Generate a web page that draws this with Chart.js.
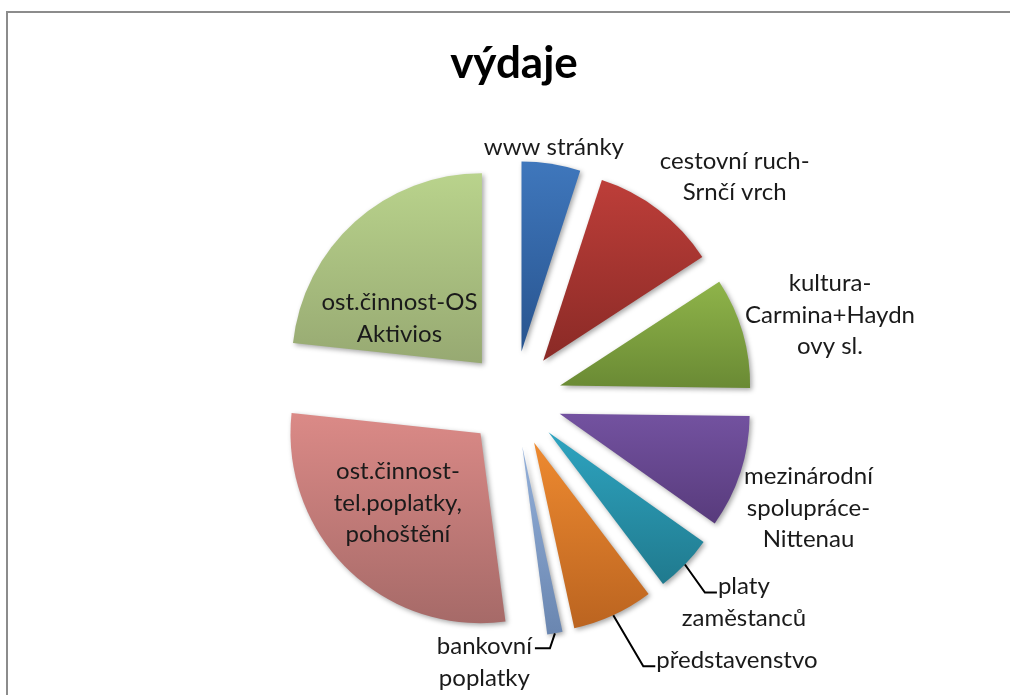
<!DOCTYPE html>
<html>
<head>
<meta charset="utf-8">
<script src="https://cdn.jsdelivr.net/npm/chart.js@4.4.1/dist/chart.umd.min.js"></script>
<style>
  html, body { margin: 0; padding: 0; background: #fff; overflow: hidden; }
  #wrap { position: absolute; left: 0; top: 0; width: 1010px; height: 708px; }
</style>
</head>
<body>
<div id="wrap"><canvas id="c"></canvas></div>
<script>
// data (share of expenses, %)
const categories = [
  ['www stránky'],
  ['cestovní ruch-', 'Srnčí vrch'],
  ['kultura-', 'Carmina+Haydn', 'ovy sl.'],
  ['mezinárodní', 'spolupráce-', 'Nittenau'],
  ['platy', 'zaměstanců'],
  ['představenstvo'],
  ['bankovní', 'poplatky'],
  ['ost.činnost-', 'tel.poplatky,', 'pohoštění'],
  ['ost.činnost-OS', 'Aktivios'],
]
const values = [5.0, 10.8, 9.4, 9.6, 4.9, 6.9, 1.3, 28.8, 23.3]

// ========================= //

const topColors = ['#3f77bc', '#bd3e39', '#8fb44a', '#7352a0', '#2ea4c0', '#ee8a30', '#93b0da', '#db8a87', '#b9d38c']
const bottomColors = ['#28548f', '#8a2a26', '#6a8a34', '#583b7c', '#207a8e', '#bb6420', '#6a86b0', '#a66a68', '#97a972']

const explode = 48
const FONT = 'Lato'
const lineH = 31.5

// label placement: polar (distance, angle nudge in deg) or leader line
const labelLayout = [
  { r: 255, da: 0 },
  { r: 313, da: 7.4 },
  { r: 327, da: 1.3 },
  { r: 314, da: 2.3 },
  { leader: [20, 28], stub: 12, ty: -6 },
  { leader: [30, 51], stub: 12, ty: -6 },
  { leader: [-5, 15], stub: -15, ty: -2 },
  { r: 156, da: 3.8 },
  { r: 140, da: -13 },
]

const explodedPie = {
  id: 'explodedPie',
  beforeDraw(chart) {
    // chart frame (only top and left edges fall inside the window)
    const ctx = chart.ctx
    ctx.save()
    ctx.strokeStyle = '#8c8c8c'
    ctx.lineWidth = 2
    ctx.beginPath()
    ctx.moveTo(7, chart.height)
    ctx.lineTo(7, 12)
    ctx.lineTo(chart.width, 12)
    ctx.stroke()
    ctx.restore()
  },
  beforeDatasetDraw(chart, args) {
    const ctx = chart.ctx
    args.meta.data.forEach((arc, i) => {
      const { x, y, startAngle, endAngle, outerRadius } = arc.getProps(['x', 'y', 'startAngle', 'endAngle', 'outerRadius'])
      const mid = (startAngle + endAngle) / 2
      const cx = x + Math.cos(mid) * explode
      const cy = y + Math.sin(mid) * explode
      let minY = cy, maxY = cy
      for (let k = 0; k <= 40; k++) {
        const a = startAngle + (endAngle - startAngle) * k / 40
        const py = cy + Math.sin(a) * outerRadius
        minY = Math.min(minY, py)
        maxY = Math.max(maxY, py)
      }
      const grad = ctx.createLinearGradient(0, minY, 0, maxY)
      grad.addColorStop(0, topColors[i])
      grad.addColorStop(1, bottomColors[i])
      ctx.save()
      ctx.shadowColor = 'rgba(0,0,0,0.35)'
      ctx.shadowBlur = 5
      ctx.shadowOffsetX = 2
      ctx.shadowOffsetY = 2
      ctx.beginPath()
      ctx.moveTo(cx, cy)
      ctx.arc(cx, cy, outerRadius, startAngle, endAngle)
      ctx.closePath()
      ctx.fillStyle = grad
      ctx.fill()
      ctx.restore()
    })
    return false
  },
  afterDatasetsDraw(chart) {
    const ctx = chart.ctx
    const meta = chart.getDatasetMeta(0)
    ctx.save()
    ctx.font = '24px ' + FONT
    ctx.fillStyle = '#1a1a1a'
    ctx.textAlign = 'center'
    ctx.textBaseline = 'middle'
    meta.data.forEach((arc, i) => {
      const { x, y, startAngle, endAngle, outerRadius } = arc.getProps(['x', 'y', 'startAngle', 'endAngle', 'outerRadius'])
      const mid = (startAngle + endAngle) / 2
      const lines = chart.data.labels[i]
      const lay = labelLayout[i]
      if (lay.leader) {
        const d = outerRadius + explode
        const sx = x + Math.cos(mid) * d
        const sy = y + Math.sin(mid) * d
        const ex = sx + lay.leader[0]
        const ey = sy + lay.leader[1]
        const tx = ex + lay.stub
        ctx.beginPath()
        ctx.moveTo(sx, sy)
        ctx.lineTo(ex, ey)
        ctx.lineTo(tx, ey)
        ctx.strokeStyle = '#000'
        ctx.lineWidth = 2
        ctx.stroke()
        const w = ctx.measureText(lines[0]).width
        const bx = lay.stub > 0 ? tx + 1 + w / 2 : tx - 3 - w / 2
        lines.forEach((ln, k) => ctx.fillText(ln, bx, ey + lay.ty + k * lineH))
      } else {
        const a = mid + lay.da * Math.PI / 180
        const bx = x + Math.cos(a) * lay.r
        const by = y + Math.sin(a) * lay.r
        const top = by - (lines.length - 1) * lineH / 2
        lines.forEach((ln, k) => ctx.fillText(ln, bx, top + k * lineH))
      }
    })
    ctx.restore()
  },
}

new Chart(document.getElementById('c'), {
  type: 'pie',
  data: {
    labels: categories,
    datasets: [
      {
        label: 'výdaje',
        data: values,
        backgroundColor: topColors,
        borderWidth: 0,
      },
    ],
  },
  options: {
    responsive: true,
    maintainAspectRatio: false,
    animation: false,
    radius: 190,
    layout: { padding: { left: 18, top: 20, right: 0, bottom: 0 } },
    plugins: {
      legend: { display: false },
      tooltip: { enabled: false },
      title: {
        display: true,
        text: 'výdaje',
        color: '#000',
        font: { family: FONT, size: 44, weight: 'bold' },
        padding: { top: 17, bottom: 0 },
      },
    },
  },
  plugins: [explodedPie],
})
</script>
</body>
</html>
